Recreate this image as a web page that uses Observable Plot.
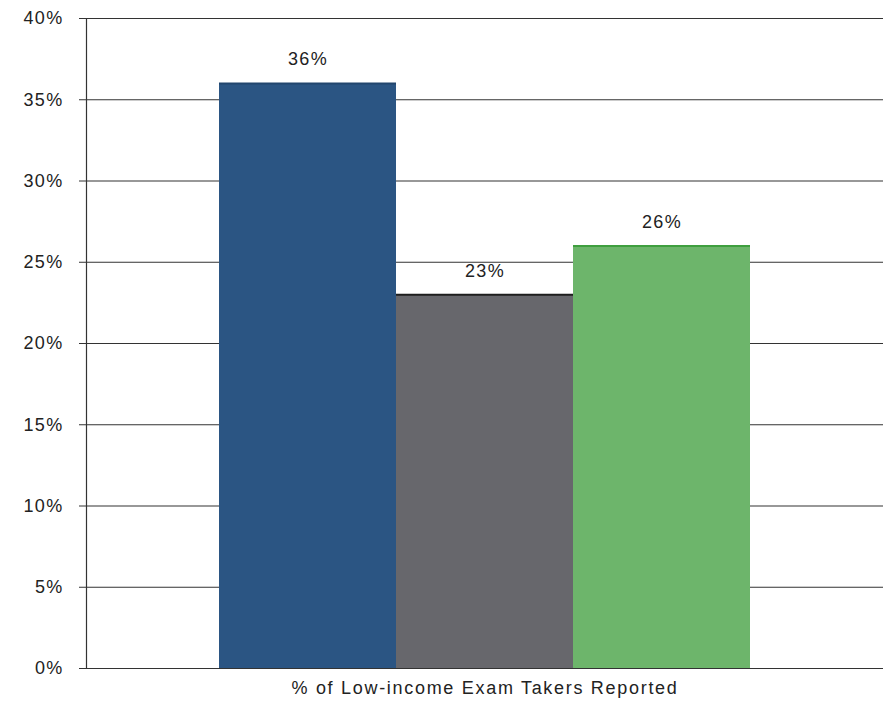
<!DOCTYPE html>
<html>
<head>
<meta charset="utf-8">
<script src="https://cdn.jsdelivr.net/npm/d3@7"></script>
<script src="https://cdn.jsdelivr.net/npm/@observablehq/plot@0.6"></script>
<style>
  html, body { margin: 0; padding: 0; background: #fff; }
  #chart svg { display: block; }
  #chart svg text { letter-spacing: 1.3px; }
  #chart svg .xlabel text { letter-spacing: 1.7px; }
</style>
</head>
<body>
<div id="chart"></div>
<script>
const categories = ["Group 1", "Group 2", "Group 3"];
const values = [36, 23, 26];
const barColors = ["#2b5583", "#67676c", "#6db56b"];
const edgeColors = ["#22466e", "#1e1e1e", "#3f9f3f"];
const yTicks = [0, 5, 10, 15, 20, 25, 30, 35, 40];
const xLabel = "% of Low-income Exam Takers Reported";

const data = categories.map((c, i) => ({cat: c, value: values[i]}));

const chart = Plot.plot({
  width: 888,
  height: 707,
  marginLeft: 86,
  marginRight: 5,
  marginTop: 18,
  marginBottom: 39,
  style: {fontFamily: "Liberation Sans, Arial, sans-serif", fontSize: "18px", color: "#222", background: "#fff"},
  x: {domain: categories, paddingInner: 0, paddingOuter: 0.75, axis: null},
  y: {domain: [0, 40]},
  color: {domain: categories, range: barColors},
  marks: [
    Plot.gridY(yTicks, {stroke: "#333", strokeOpacity: 1, strokeWidth: 1.2}),
    Plot.axisY(yTicks, {tickSize: 7, tickPadding: 16, tickFormat: d => d + "%", fontSize: 18, label: null, stroke: "#333", fill: "#222"}),
    Plot.barY(data, {x: "cat", y: "value", fill: "cat"}),
    Plot.tickY(data, {x: "cat", y: "value", stroke: (d, i) => edgeColors[i], strokeWidth: 2}),
    Plot.text(data, {x: "cat", y: "value", text: d => d.value + "%", dy: -24, fontSize: 18, fill: "#222"}),
    Plot.ruleY([0], {stroke: "#333", strokeWidth: 1.2}),
    Plot.frame({anchor: "left", stroke: "#333", strokeWidth: 1.2}),
    Plot.text([xLabel], {frameAnchor: "bottom", dy: 25, fontSize: 18, fill: "#222", className: "xlabel"})
  ]
});
document.getElementById("chart").appendChild(chart);
</script>
</body>
</html>
